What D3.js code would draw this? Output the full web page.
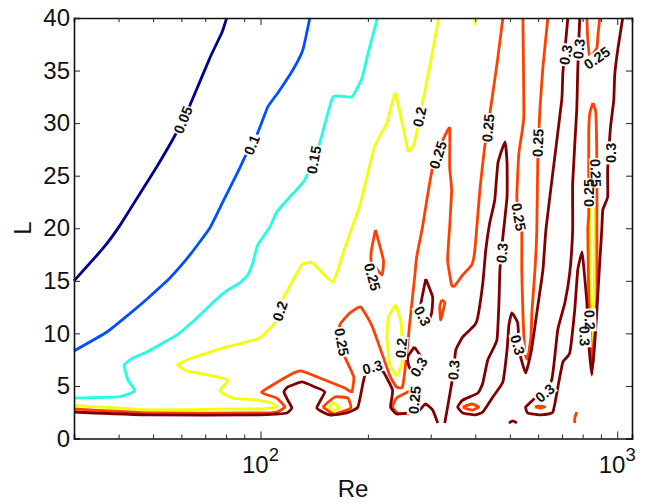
<!DOCTYPE html>
<html>
<head>
<meta charset="utf-8">
<script src="https://cdn.jsdelivr.net/npm/d3@7"></script>
<style>
  body { margin: 0; background: #fff; }
  text { font-family: "Liberation Sans", Arial, sans-serif; fill: #111; }
</style>
</head>
<body>
<div id="chart"></div>
<script>
// contour levels and their line colours
const levels = [0.05, 0.1, 0.15, 0.2, 0.25, 0.3];
const levelColors = ["#00008f", "#0050ff", "#20ffdf", "#f2ff0a", "#ff4000", "#800000"];

// every contour is a list of [Re, L]
const contour005 = [
  [[30,15],[36.2,18.1],[40.4,20.3],[46.5,23.6],[51.5,26],[57.5,28.8],[63.4,31.7],[72.1,36.2],[77.9,38.6],[80.4,40]]
];
const contour010 = [
  [[30,8.33],[37.1,10.13],[43.6,12.04],[48.4,13.37],[55.7,15.27],[63.4,17.46],[72.1,20.03],[78.4,22.5],[87.5,25.74],[90.4,26.78],[98.2,29.07],[104.8,31.54],[111.8,32.87],[123.2,35.06],[131.4,36.96],[137.5,40]]
];
const contour015 = [
  [[30,3.85],[39.9,3.95],[44.4,4.52],[42.5,5.57],[41.45,6.99],[43.85,7.66],[48,8.23],[58.3,9.85],[66.3,11.47],[75.4,13.27],[81,14.13],[87.5,14.8],[92.1,15.56],[95.1,16.7],[98.2,18.41],[106.2,20.12],[111,21.55],[120.8,22.98],[133.1,24.6],[146.6,28.12],[159.5,32.49],[180.3,32.49],[192.5,34.3],[202,37.16],[212.7,40]]
];
const contour020 = [
  [[30,3.14],[39.6,2.9],[50,2.71],[83.6,2.81],[100.8,2.81],[111,3],[107.6,3.38],[97.6,3.66],[83.6,3.85],[76.9,4.52],[81,5.57],[68.9,6.14],[62.2,6.42],[58.6,6.99],[62.2,7.47],[80.4,8.71],[89.2,9.09],[99.5,9.56],[109.7,10.99],[115.5,13.27],[130.6,16.51],[140.2,16.7],[159.5,14.89],[172.3,18.13],[190,22.22],[208.7,27.74],[226,30.02],[239,32.78],[259,27.45],[269,27.93],[276,29.64],[284.5,31.92],[298,35.35],[316,40]],
  [[155.4,3],[160.5,3.38],[166.8,2.9],[160.5,2.62],[155.4,3]],
  [[239,12.7],[248,10.99],[249,8.9],[249.6,7.18],[240.6,5.95],[230,7.18],[226,9.66],[228.5,11.56],[239,12.7]],
  [[399,40],[399,39.3]],
  [[838,21.93],[838,17.93],[843,13.18],[849,8.42],[860,13.18],[865,17.93],[865,21.93],[838,21.93]]
];
const contour025 = [
  [[30,2.81],[49,2.43],[99.5,2.43],[111,2.52],[117,3],[111,3.85],[100.8,4.42],[120.8,6.04],[130.6,6.42],[156.4,5.38],[172.3,4.8],[180.3,4.42],[182.6,5.85],[172.3,7.75],[166.8,9.18],[166.8,10.8],[178,11.94],[191,12.51],[206,10.61],[230,6.04],[240.6,4.9],[250,4.9],[256,7.47],[262,10.99],[270,15.08],[274,17.27],[284.5,20.12],[293.5,22.98],[303.8,25.83],[314,26.97],[324.5,28.4],[339,29.54],[339,25.83],[343.4,23.64],[339,20.12],[334.5,16.98],[343.4,14.6],[350,14.51],[369,15.56],[391,16.51],[399,17.93],[412,23.64],[425,27.74],[433.5,29.54],[448,32.87],[463,36.3],[478,40]],
  [[544,40],[547,30.59],[530,27.16],[523,22.98],[530,21.08],[540,19.55],[540,16.03],[544,11.94],[551,8.14],[561,7.56],[573,9.66],[577,12.23],[588,16.03],[595,19.84],[599,26.78],[607,31.26],[619,35.35],[639,40]],
  [[822,40],[827,37.92],[838,36.3],[877,37.16],[883,38.39],[893,40]],
  [[855,31.92],[838,30.97],[832,29.07],[832,21.46],[827,19.84],[832,13.46],[849,7.75],[855,7.28],[877,13.46],[877,19.84],[877,25.83],[871,30.97],[855,31.92]],
  [[149.5,3],[161.5,3.95],[175.7,3.85],[179,2.9],[161.5,2.33],[156.4,2.52],[149.5,3]],
  [[262,4.52],[240.6,3.85],[234.5,3],[242,2.43],[262,2.33]],
  [[210,19.84],[204.6,17.93],[204.6,16.79],[219,15.56],[221,16.98],[210,19.84]],
  [[322,13.18],[328.5,12.89],[320,11.28],[318,12.51],[322,13.18]],
  [[369,3],[391,3.28],[409,3],[394,2.71],[379,2.81],[369,3]],
  [[588,3],[607,3.09],[627,3],[607,2.9],[588,3]],
  [[770,2.52],[760,1.95],[760,1.47]]
];
const contour030 = [
  [[30,2.52],[49,2.24],[99.5,2.24],[111,2.33],[118.5,2.43],[122.4,2.9],[119.2,3.66],[116.3,4.42],[119.2,4.9],[130.6,5.38],[142,4.9],[151.4,4.42],[143.8,2.9],[156.4,2.24],[174.5,2.43],[187.5,3],[193.8,5.28],[198,6.33],[218.8,6.52],[234.5,4.61],[231.5,3],[240.6,2.33],[262,2.43],[279,2.71],[290,3.28],[303.8,2.71],[314,1.47]],
  [[328.5,1.47],[341,4.61],[348,6.52],[352.7,8.42],[369,9.66],[399,10.8],[406.6,11.56],[420,14.8],[428,17.93],[439,20.5],[453.6,22.69],[463,26.21],[484.5,28.21],[491,26.21],[491,22.98],[478,19.17],[469,16.03],[466,12.89],[460,9.37],[433.5,7.47],[420,5.28],[407,4.33],[369,3.66],[357,3],[369,2.43],[399,2.24],[420,2.52],[448,3.95],[478,5.38],[491,8.42],[497,10.8],[506.5,11.94],[526,10.99],[533,8.14],[554,6.23],[575,8.42],[595,11.94],[619,16.03],[631,19.84],[656,24.6],[699,32.2],[704,34.78],[727,40]],
  [[785,40],[775,35.06],[770,31.26],[750,24.31],[750,19.84],[736,15.75],[713,12.89],[681,10.32],[655,5.57],[588,3.85],[554,3],[561,2.43],[607,2.24],[660,2.52],[685,5.28],[704,7.28],[736,8.14],[760,12.23],[775,16.03],[797,17.75],[807,16.03],[822,12.89],[832,9.09],[849,6.04],[865,9.09],[877,12.23],[893,16.7],[905,19.84],[911,21.74],[940,22.98],[940,25.55],[953,28.69],[959,29.83],[978,32.21],[984,34.59],[1003,36.96],[1036,40]],
  [[290.6,15.18],[303.8,13.46],[301.8,11.94],[292.5,10.8],[279,11.28],[281,12.7],[290.6,15.18]],
  [[270,8.71],[283,7.66],[284.5,6.71],[267,6.23],[260,6.99],[258.5,7.75],[270,8.71]],
  [[497,1.47],[510,1.67],[523,1.47]]
];
const contours = [contour005, contour010, contour015, contour020, contour025, contour030];

// clabel text, where it sits and how it is turned
const labelText = ["0.05","0.1","0.15","0.2","0.2","0.25","0.25","0.25","0.3","0.2","0.3","0.3","0.25","0.3","0.3","0.25","0.25","0.3","0.25","0.3","0.3","0.25","0.25","0.25","0.2","0.3","0.3","0.3"];
const labelRe = [60.6,94.5,141,113.3,279,314,206,169,206,248,284.5,277.5,270,348,475,530,434,526,599,717,780,877,871,832,838,811,959,627];
const labelL = [30.3,27.93,26.5,12.13,30.6,26.97,15.37,9.18,6.8,8.61,11.66,6.8,3.66,6.52,17.65,21.08,29.54,8.9,28.12,36.49,37.06,36.2,25.26,23.36,11.28,9.75,27.17,4.33];
const labelAngle = [-68,-68,-80,-72,-78,-72,75,80,-15,-85,62,-60,-85,-85,-85,80,-85,75,-88,-80,-85,-35,88,-90,88,88,-90,-40];

// axes
const xMajor = [100, 1000];
const xMinor = [40, 50, 60, 70, 80, 90, 200, 300, 400, 500, 600, 700, 800, 900];
const yTicks = [0, 5, 10, 15, 20, 25, 30, 35, 40];

const margin = { top: 18, right: 18, bottom: 64.5, left: 74 };
const width = 650, height = 503;

const svg = d3.select("#chart").append("svg")
  .attr("width", width)
  .attr("height", height)
  .style("display", "block");

const x = d3.scaleLog().domain([30, 1100]).range([margin.left, width - margin.right]);
const y = d3.scaleLinear().domain([0, 40]).range([height - margin.bottom, margin.top]);

// high tension: corners stay sharp like the original, only slightly rounded
const line = d3.line().x(d => x(d[0])).y(d => y(d[1])).curve(d3.curveCardinal.tension(0.6));

// lines, lowest level first so the dark red ends up on top
contours.forEach((paths, i) => {
  svg.append("g").selectAll("path")
    .data(paths)
    .join("path")
    .attr("d", line)
    .attr("fill", "none")
    .attr("stroke", levelColors[i])
    .attr("stroke-width", 2.8)
    .attr("stroke-linejoin", "round");
});

const labelTransform = (d, i) => `translate(${x(labelRe[i])},${y(labelL[i])}) rotate(${labelAngle[i]})`;

// labels break the line: all the white patches go down first, then all the text,
// so that labels sitting on top of each other stay readable
svg.append("g").selectAll("rect")
  .data(labelText)
  .join("rect")
  .attr("transform", labelTransform)
  .attr("x", d => -d.length * 3.5 - 1)
  .attr("y", -6.5)
  .attr("width", d => d.length * 7 + 2)
  .attr("height", 13)
  .attr("fill", "#fff");

svg.append("g").selectAll("text")
  .data(labelText)
  .join("text")
  .attr("transform", labelTransform)
  .attr("text-anchor", "middle")
  .attr("dy", "0.36em")
  .attr("font-size", 14.5)
  .attr("font-weight", "bold")
  .text(d => d);

// box and ticks, all pointing inward
function styleAxis(g) {
  g.select(".domain").attr("stroke", "#111").attr("stroke-width", 1.6);
  g.selectAll(".tick line").attr("stroke", "#222").attr("stroke-width", 1);
}

const bottom = svg.append("g")
  .attr("transform", `translate(0,${height - margin.bottom})`)
  .call(d3.axisBottom(x).tickValues(xMajor.concat(xMinor)).tickSizeOuter(0).tickSize(-4).tickFormat(""))
  .call(styleAxis);
bottom.selectAll(".tick line").filter(d => xMajor.includes(d)).attr("y2", -7);

const top_ = svg.append("g")
  .attr("transform", `translate(0,${margin.top})`)
  .call(d3.axisTop(x).tickValues(xMajor.concat(xMinor)).tickSizeOuter(0).tickSize(-4).tickFormat(""))
  .call(styleAxis);
top_.selectAll(".tick line").filter(d => xMajor.includes(d)).attr("y2", 7);

svg.append("g")
  .attr("transform", `translate(${margin.left},0)`)
  .call(d3.axisLeft(y).tickValues(yTicks).tickSizeOuter(0).tickSize(-6).tickPadding(4).tickFormat(d3.format("d")))
  .call(styleAxis)
  .selectAll("text")
  .attr("font-size", 24)
  .style("font-family", "Liberation Sans")
  .attr("fill", "#111");

svg.append("g")
  .attr("transform", `translate(${width - margin.right},0)`)
  .call(d3.axisRight(y).tickValues(yTicks).tickSizeOuter(0).tickSize(-6).tickFormat(""))
  .call(styleAxis);

// 10^2 and 10^3 under the axis
const xLabels = svg.append("g").selectAll("text")
  .data(xMajor)
  .join("text")
  .attr("x", d => x(d))
  .attr("y", 472.7)
  .attr("text-anchor", "middle")
  .attr("font-size", 24);
xLabels.append("tspan").text("10");
xLabels.append("tspan")
  .attr("dy", -12)
  .attr("font-size", 18.5)
  .text(d => Math.round(Math.log10(d)));

svg.append("text")
  .attr("x", 353)
  .attr("y", 497)
  .attr("text-anchor", "middle")
  .attr("font-size", 24)
  .text("Re");

svg.append("text")
  .attr("transform", "translate(31,228) rotate(-90)")
  .attr("text-anchor", "middle")
  .attr("font-size", 24)
  .text("L");
</script>
</body>
</html>
